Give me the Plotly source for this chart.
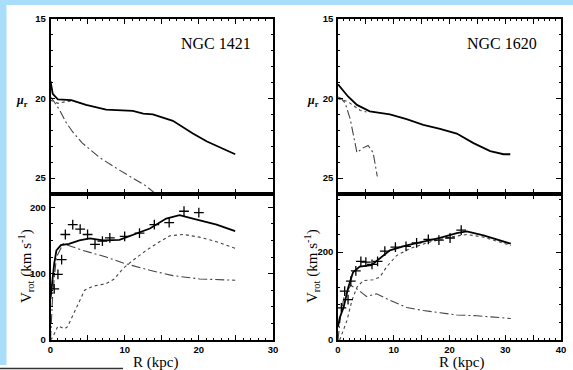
import plotly.graph_objects as go

# ---------------- data ----------------
# NGC 1421 surface brightness
n1421_mu_R_tot = [0, 0.3, 1.0, 2.0, 2.8, 4.8, 7.5, 11.1, 12.5, 13.8, 16.5, 19.2, 21.1, 24.9]
n1421_mu_tot = [18.9, 19.7, 20.05, 20.1, 20.1, 20.4, 20.7, 20.77, 20.95, 21.0, 21.4, 22.2, 22.7, 23.5]
n1421_mu_R_disk = [0, 0.5, 1.0, 2.0, 3.0, 4.8]
n1421_mu_disk = [20.1, 20.2, 20.3, 20.2, 20.15, 20.4]
n1421_mu_R_bulge = [0, 0.5, 1.2, 2.1, 3.0, 4.3, 6.6, 9.3, 12.9, 14.2]
n1421_mu_bulge = [19.9, 20.2, 20.7, 21.5, 22.1, 22.8, 23.7, 24.5, 25.5, 26.0]

# NGC 1421 rotation curve
n1421_obs_R = [0.5, 1, 1.5, 2, 3, 4, 5, 6, 7, 8, 10, 12, 14, 16, 18, 20]
n1421_obs_V = [77, 99, 121, 159, 174, 167, 159, 144, 149, 154, 156, 161, 174, 177, 194, 192]
n1421_v_R_tot = [0, 0.2, 0.5, 0.8, 1.4, 2.5, 3.9, 5.3, 7.1, 9.3, 11.1, 13.4, 15.6, 17.4, 19.2, 22.4, 24.9]
n1421_v_tot = [62, 85, 115, 135, 143, 145, 150, 153, 150, 151, 158, 168, 183, 188, 183, 174, 164]
n1421_v_R_disk = [0, 0.3, 1.0, 1.9, 2.3, 3.5, 4.6, 5.7, 7.5, 8.6, 9.8, 11.1, 12.9, 14.7, 16.1, 17.9, 20.1, 22.4, 24.9]
n1421_v_disk = [0, 4, 21, 17, 20, 49, 75, 81, 85, 92, 108, 120, 135, 148, 157, 159, 155, 148, 138]
n1421_v_R_bulge = [0, 0.3, 0.8, 1.7, 4.4, 7.5, 9.8, 13.4, 16.5, 20.1, 24.9]
n1421_v_bulge = [0, 70, 125, 145, 135, 125, 116, 105, 97, 92, 90]

# NGC 1620 surface brightness
n1620_mu_R_tot = [0, 1.8, 3.4, 5.7, 9.3, 12.3, 15.3, 18.3, 21.3, 24.3, 27.3, 29.7, 30.9]
n1620_mu_tot = [19.1, 19.87, 20.4, 20.8, 21.0, 21.3, 21.65, 21.9, 22.2, 22.8, 23.3, 23.5, 23.5]
n1620_mu_R_disk = [0, 1.0, 1.8, 3.0, 4.0, 5.1]
n1620_mu_disk = [20.0, 20.1, 20.2, 20.5, 20.75, 20.85]
n1620_mu_R_bulge = [0, 0.6, 1.3, 2.2, 3.4, 4.5, 5.4, 6.3, 7.05]
n1620_mu_bulge = [19.9, 20.0, 20.3, 21.3, 23.4, 23.1, 22.95, 23.4, 24.9]

# NGC 1620 rotation curve
n1620_obs_R = [0.6, 1.2, 1.8, 2.3, 3.2, 4.1, 5.0, 6.1, 7.1, 8.4, 10.3, 12.2, 14.1, 16.2, 18.1, 20.1, 22.1]
n1620_obs_V = [73, 111, 92, 134, 157, 179, 177, 172, 179, 202, 211, 213, 221, 229, 227, 232, 250]
n1620_v_R_tot = [0, 0.3, 1.0, 1.85, 2.7, 3.9, 6.0, 7.5, 9.3, 12.3, 15.3, 18.3, 21.3, 23.1, 26.1, 29.1, 31.0]
n1620_v_tot = [30, 50, 74, 120, 154, 167, 170, 185, 204, 215, 224, 232, 243, 247, 238, 227, 219]
n1620_v_R_disk = [0.3, 1.6, 2.5, 3.4, 4.5, 6.3, 7.5, 8.7, 10.5, 12.9, 16.5, 20.1, 23.1, 26.1, 31.0]
n1620_v_disk = [0, 44, 90, 120, 135, 137, 143, 166, 192, 208, 223, 234, 240, 234, 215]
n1620_v_R_bulge = [0, 0.5, 1.2, 2.33, 3.4, 5.1, 6.9, 8.7, 12.3, 15.3, 18.3, 21.3, 24.9, 31.0]
n1620_v_bulge = [0, 60, 105, 124, 116, 99, 105, 94, 74, 67, 62, 57, 55, 49]

galaxy_names = ["NGC 1421", "NGC 1620"]

# ---------------- figure ----------------
W, H = 573, 370
fig = go.Figure()

def px(x):
    return x / W

def py(y):
    return 1 - y / H

DASH = "3px,3px"
DASHDOT = "9px,3px,2px,3px"
GREY = "#444444"

def add(ax, R, v, kind):
    xa, ya = ax
    if kind == "tot":
        line = dict(color="black", width=1.8)
    elif kind == "disk":
        line = dict(color=GREY, width=1.1, dash=DASH)
    else:
        line = dict(color=GREY, width=1.1, dash=DASHDOT)
    fig.add_trace(go.Scatter(x=R, y=v, mode="lines", line=line, xaxis=xa, yaxis=ya,
                             showlegend=False, hoverinfo="skip"))

def add_obs(ax, R, v):
    xa, ya = ax
    fig.add_trace(go.Scatter(x=R, y=v, mode="markers", xaxis=xa, yaxis=ya,
                             marker=dict(symbol="cross-thin", size=7,
                                         line=dict(color="black", width=1.3)),
                             showlegend=False, hoverinfo="skip"))

# panels: (x, y) axis ids
TL = ("x", "y")
BL = ("x2", "y2")
TR = ("x3", "y3")
BR = ("x4", "y4")

add(TL, n1421_mu_R_bulge, n1421_mu_bulge, "bulge")
add(TL, n1421_mu_R_disk, n1421_mu_disk, "disk")
add(TL, n1421_mu_R_tot, n1421_mu_tot, "tot")

add(BL, n1421_v_R_bulge, n1421_v_bulge, "bulge")
add(BL, n1421_v_R_disk, n1421_v_disk, "disk")
add(BL, n1421_v_R_tot, n1421_v_tot, "tot")
add_obs(BL, n1421_obs_R, n1421_obs_V)

add(TR, n1620_mu_R_bulge, n1620_mu_bulge, "bulge")
add(TR, n1620_mu_R_disk, n1620_mu_disk, "disk")
add(TR, n1620_mu_R_tot, n1620_mu_tot, "tot")

add(BR, n1620_v_R_bulge, n1620_v_bulge, "bulge")
add(BR, n1620_v_R_disk, n1620_v_disk, "disk")
add(BR, n1620_v_R_tot, n1620_v_tot, "tot")
add_obs(BR, n1620_obs_R, n1620_obs_V)

TICKFONT = dict(family="Liberation Sans", size=9.5, color="black", weight="bold")

def xaxis_cfg(dom, xmax, labels, anchor):
    vals = list(range(0, xmax + 1, 5))
    text = [str(v) if (v % 10 == 0 and labels) else "" for v in vals]
    return dict(domain=dom, range=[0, xmax], anchor=anchor, showgrid=False, zeroline=False,
                showline=True, linecolor="black", linewidth=1.5, mirror="allticks",
                ticks="inside", ticklen=5, tickwidth=1.2, tickcolor="black",
                tickmode="array", tickvals=vals, ticktext=text,
                tickfont=TICKFONT, ticklabelstandoff=0,
                minor=dict(dtick=1, ticklen=2.5, tickwidth=1, tickcolor="black", ticks="inside"))

def yaxis_cfg(dom, rng, minor, anchor, tickvals):
    return dict(domain=dom, range=rng, anchor=anchor, showgrid=False, zeroline=False,
                showline=True, linecolor="black", linewidth=1.5, mirror="allticks",
                ticks="inside", ticklen=5, tickwidth=1.2, tickcolor="black",
                tickfont=TICKFONT, ticklabelstandoff=1,
                tickmode="array", tickvals=tickvals, ticktext=[str(t) for t in tickvals],
                minor=dict(dtick=minor, ticklen=2.5, tickwidth=1, tickcolor="black", ticks="inside"))

xL = [px(50.5), px(273)]
xR = [px(338), px(561)]
yTop = [py(194), py(19)]
yBot = [py(340), py(194)]

fig.update_layout(
    width=W, height=H, margin=dict(l=0, r=0, t=0, b=0, autoexpand=False),
    paper_bgcolor="white", plot_bgcolor="white",
    xaxis=xaxis_cfg(xL, 30, False, "y"),
    yaxis=yaxis_cfg(yTop, [26, 15], 1, "x", [15, 20, 25]),
    xaxis2=xaxis_cfg(xL, 30, True, "y2"),
    yaxis2=yaxis_cfg(yBot, [0, 220], 25, "x2", [0, 100, 200]),
    xaxis3=xaxis_cfg(xR, 40, False, "y3"),
    yaxis3=yaxis_cfg(yTop, [26, 15], 1, "x3", [15, 20, 25]),
    xaxis4=xaxis_cfg(xR, 40, True, "y4"),
    yaxis4=yaxis_cfg(yBot, [0, 332], 40, "x4", [0, 200]),
)

# blue frame and bottom rule
BLUE = "#a8def9"
fig.add_shape(type="rect", xref="paper", yref="paper", x0=0, x1=1, y0=py(5), y1=1,
              fillcolor=BLUE, line_width=0, layer="below")
fig.add_shape(type="rect", xref="paper", yref="paper", x0=0, x1=px(6.5), y0=py(365), y1=1,
              fillcolor=BLUE, line_width=0, layer="below")
fig.add_shape(type="line", xref="paper", yref="paper", x0=0, x1=px(123), y0=py(368.5), y1=py(368.5),
              line=dict(color="#333333", width=1.5))

SERIF = "Liberation Serif"

def note(text, x, y, size, angle=0, weight="normal"):
    fig.add_annotation(text=text, xref="paper", yref="paper", x=px(x), y=py(y),
                       xanchor="center", yanchor="middle", textangle=angle, showarrow=False,
                       font=dict(family=SERIF, size=size, color="black", weight=weight))

# galaxy names
note(galaxy_names[0], 216, 43, 16)
note(galaxy_names[1], 502, 43, 16)

# axis titles
for xc in (22, 313):
    note("<i>μ</i><sub>r</sub>", xc, 101, 12, weight="bold")
for xc in (26, 312):
    note("V<sub>rot</sub> (km s<sup>-1</sup>)", xc, 266, 15, angle=-90)
for xc in (155, 461):
    note("R (kpc)", xc, 362.5, 15)

fig.write_html("out.html")
